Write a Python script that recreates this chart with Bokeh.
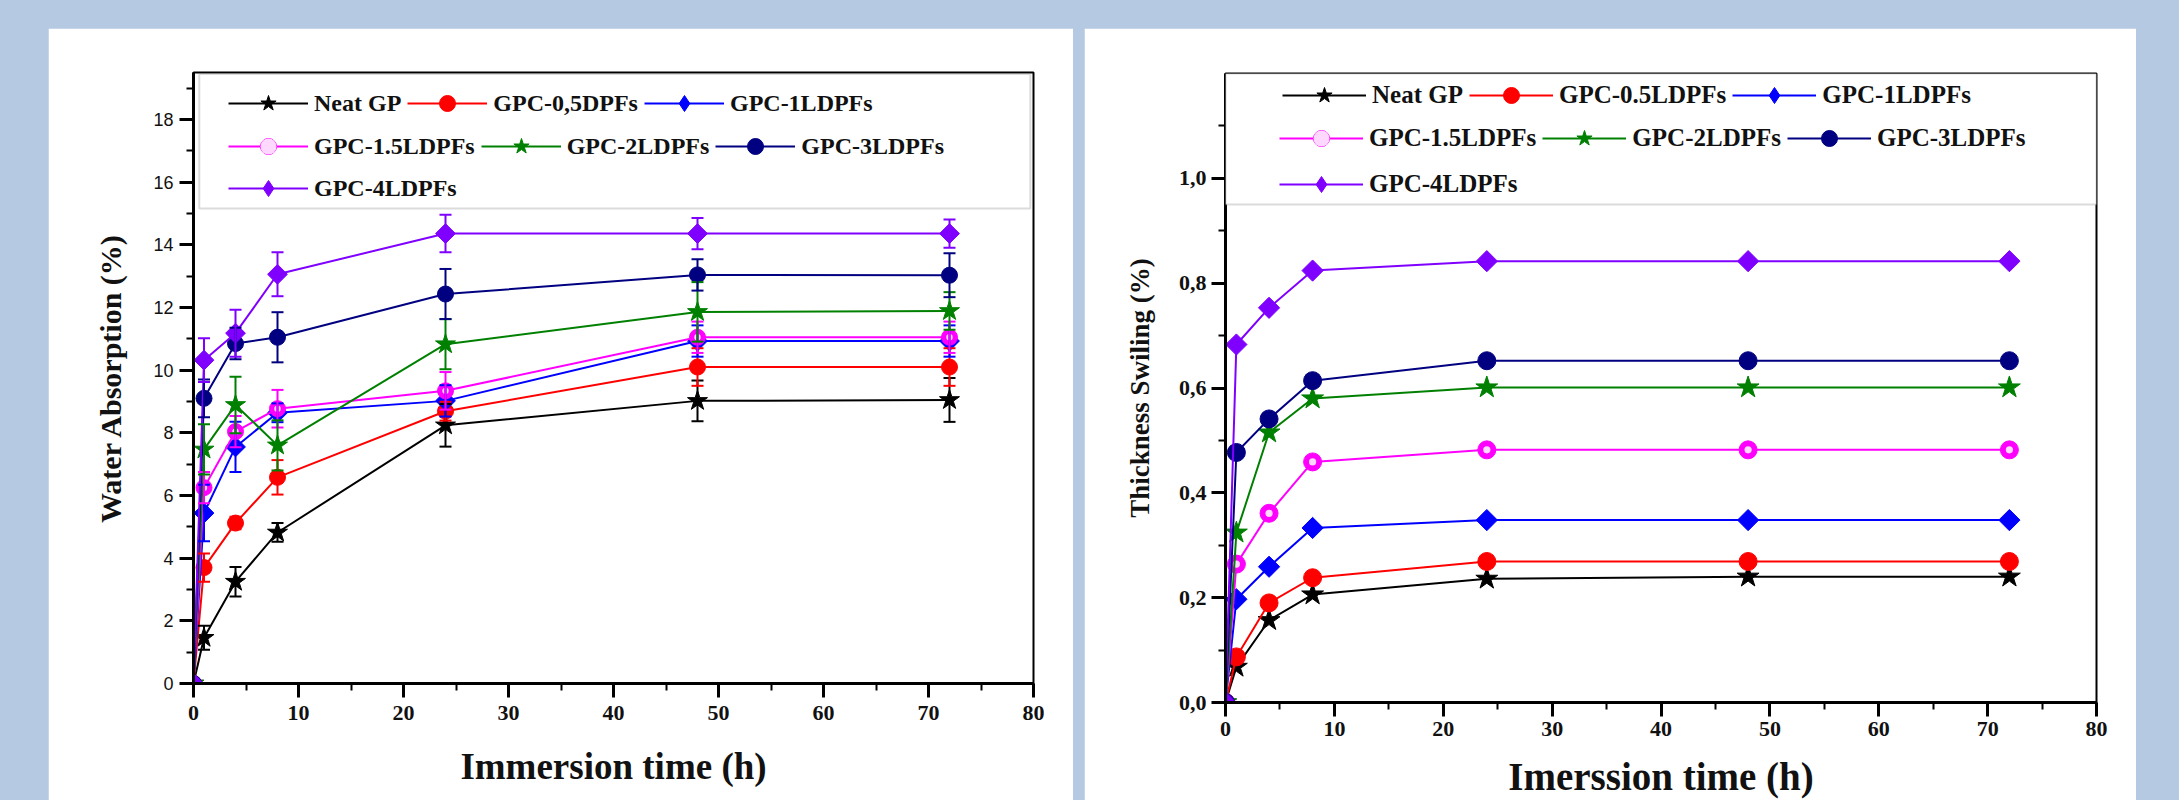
import math
from bokeh.plotting import figure
from bokeh.models import (Range1d, SingleIntervalTicker, Whisker, TeeHead, ColumnDataSource,
                          Legend, LegendItem, BoxAnnotation, CustomJSTickFormatter, Spacer,
                          GlobalInlineStyleSheet)
from bokeh.layouts import row, column
from bokeh.embed import file_html
from bokeh.resources import INLINE

# ---------------- data ----------------
hours = [0, 1, 4, 8, 24, 48, 72]

wa_labels = ["Neat GP", "GPC-0,5DPFs", "GPC-1LDPFs", "GPC-1.5LDPFs",
             "GPC-2LDPFs", "GPC-3LDPFs", "GPC-4LDPFs"]
ts_labels = ["Neat GP", "GPC-0.5LDPFs", "GPC-1LDPFs", "GPC-1.5LDPFs",
             "GPC-2LDPFs", "GPC-3LDPFs", "GPC-4LDPFs"]

# Water absorption (%) and error bars
wa_neat = [0, 1.46, 3.25, 4.82, 8.24, 9.02, 9.05]
wa_neat_err = [0, 0.38, 0.47, 0.30, 0.68, 0.65, 0.70]
wa_05 = [0, 3.70, 5.12, 6.58, 8.69, 10.10, 10.10]
wa_05_err = [0, 0.45, 0.20, 0.55, 0.30, 0.60, 0.60]
wa_1 = [0, 5.44, 7.55, 8.64, 9.02, 10.93, 10.93]
wa_1_err = [0, 0.90, 0.80, 0.30, 0.50, 0.50, 0.50]
wa_15 = [0, 6.25, 8.04, 8.77, 9.34, 11.05, 11.05]
wa_15_err = [0, 0.50, 0.50, 0.60, 0.60, 0.50, 0.50]
wa_2 = [0, 7.47, 8.89, 7.60, 10.83, 11.86, 11.89]
wa_2_err = [0, 0.80, 0.90, 0.80, 0.80, 0.95, 0.60]
wa_3 = [0, 9.10, 10.85, 11.05, 12.43, 13.04, 13.03]
wa_3_err = [0, 0.60, 0.50, 0.80, 0.80, 0.50, 0.70]
wa_4 = [0, 10.32, 11.18, 13.06, 14.36, 14.36, 14.36]
wa_4_err = [0, 0.70, 0.75, 0.70, 0.60, 0.50, 0.45]

# Thickness swelling (%)
ts_neat = [0, 0.068, 0.157, 0.206, 0.236, 0.240, 0.240]
ts_05 = [0, 0.087, 0.190, 0.238, 0.269, 0.269, 0.269]
ts_1 = [0, 0.197, 0.259, 0.333, 0.348, 0.348, 0.348]
ts_15 = [0, 0.264, 0.361, 0.459, 0.482, 0.482, 0.482]
ts_2 = [0, 0.324, 0.515, 0.580, 0.601, 0.601, 0.601]
ts_3 = [0, 0.477, 0.541, 0.614, 0.652, 0.652, 0.652]
ts_4 = [0, 0.683, 0.753, 0.824, 0.842, 0.842, 0.842]

colors = ["#000000", "#ff0000", "#0000ff", "#ff00ff", "#008000", "#000080", "#8000ff"]
markers = ["star", "circle", "diamond", "circle", "star", "circle", "diamond"]

BG = "#b5c9e3"
SERIF = "Liberation Serif"
SANS = "Liberation Sans"


def style_axes(p):
    p.grid.visible = False
    for ax in list(p.xaxis) + list(p.yaxis):
        ax.axis_line_width = 3
        ax.axis_line_color = "black"
        ax.major_tick_line_width = 3
        ax.minor_tick_line_width = 2
        ax.major_tick_line_color = "black"
        ax.minor_tick_line_color = "black"
        ax.major_tick_out = 14
        ax.major_tick_in = 0
        ax.minor_tick_out = 7
        ax.minor_tick_in = 0
        ax.axis_label_text_font = SERIF
        ax.axis_label_text_font_style = "bold"
        ax.axis_label_text_color = "#111111"
        ax.major_label_text_color = "#111111"


def add_series(p, ys, errs, sizes):
    rends = []
    for i, y in enumerate(ys):
        c = colors[i]
        src = ColumnDataSource(dict(x=hours, y=y))
        ln = p.line("x", "y", source=src, line_color=c, line_width=2)
        m = markers[i]
        sz = sizes[m]
        if m == "diamond":
            p.scatter("x", "y", source=src, marker="square", angle=math.pi / 4,
                      size=sz, fill_color=c, line_color=c)
            # legend swatch: zero-size diamonds (the legend sizes its own swatch)
            sc = p.scatter("x", "y", source=src, marker="diamond", size=0,
                           fill_color=c, line_color=c)
        else:
            sc = p.scatter("x", "y", source=src, marker=m, size=sz,
                           fill_color=c, line_color=c)
        group = [ln, sc]
        if i == 3:
            dot = p.scatter("x", "y", source=src, marker="circle", size=sz * 0.4,
                            fill_color="#ffd8ff", line_color=None)
            group.append(dot)
        if errs is not None:
            e = errs[i]
            xs = [hours[k] for k in range(len(hours)) if e[k] > 0]
            up = [y[k] + e[k] for k in range(len(hours)) if e[k] > 0]
            lo = [y[k] - e[k] for k in range(len(hours)) if e[k] > 0]
            wsrc = ColumnDataSource(dict(base=xs, upper=up, lower=lo))
            w = Whisker(source=wsrc, base="base", upper="upper", lower="lower",
                        line_color=c, line_width=2, level="glyph",
                        upper_head=TeeHead(size=12, line_color=c, line_width=2),
                        lower_head=TeeHead(size=12, line_color=c, line_width=2))
            p.add_layout(w)
        rends.append(group)
    return rends


def add_legends(p, labels, rends, locs, glyph_w, font_px):
    groups = [[0, 1, 2], [3, 4, 5], [6]]
    for g, loc in zip(groups, locs):
        items = [LegendItem(label=labels[i], renderers=rends[i]) for i in g]
        leg = Legend(items=items, orientation="horizontal", location=loc,
                     glyph_width=glyph_w, glyph_height=40, label_height=40,
                     label_standoff=6, spacing=6, padding=0, margin=0,
                     border_line_alpha=0, background_fill_alpha=0,
                     label_text_font=SERIF, label_text_font_style="bold",
                     label_text_font_size=font_px, label_text_color="#111111")
        p.add_layout(leg)


# ---------------- left: water absorption ----------------
p1 = figure(width=1025, height=772, x_range=Range1d(0, 80), y_range=Range1d(0, 19.5),
            output_backend="svg", toolbar_location=None,
            min_border_left=145, min_border_right=40, min_border_top=44, min_border_bottom=117,
            background_fill_color="white", border_fill_color="white",
            outline_line_color="black", outline_line_width=2, outline_line_alpha=1)
p1.frame_align = False
style_axes(p1)
p1.xaxis.ticker = SingleIntervalTicker(interval=10, num_minor_ticks=2)
p1.yaxis.ticker = SingleIntervalTicker(interval=2, num_minor_ticks=2)
p1.xaxis.axis_label = "Immersion time (h)"
p1.xaxis.axis_label_text_font_size = "37px"
p1.xaxis.axis_label_standoff = 23
p1.xaxis.major_label_text_font = SERIF
p1.xaxis.major_label_text_font_style = "bold"
p1.xaxis.major_label_text_font_size = "22px"
p1.xaxis.major_label_standoff = 8
p1.yaxis.axis_label = "Water Absorption (%)"
p1.yaxis.axis_label_text_font_size = "30px"
p1.yaxis.axis_label_standoff = 23
p1.yaxis.major_label_text_font = SANS
p1.yaxis.major_label_text_font_style = "normal"
p1.yaxis.major_label_text_font_size = "18px"
p1.yaxis.major_label_standoff = 6

box1 = BoxAnnotation(left=0.55, right=79.7, top=19.45, bottom=15.16,
                     fill_color="white", fill_alpha=1, line_color="#888888", line_width=2)
p1.add_layout(box1)

r1 = add_series(p1, [wa_neat, wa_05, wa_1, wa_15, wa_2, wa_3, wa_4],
                [wa_neat_err, wa_05_err, wa_1_err, wa_15_err, wa_2_err, wa_3_err, wa_4_err],
                {"star": 21, "circle": 16, "diamond": 14})
add_legends(p1, wa_labels, r1, [(35, 560), (35, 517), (35, 475)], 80, "24px")

# ---------------- right: thickness swelling ----------------
p2 = figure(width=1052, height=772, x_range=Range1d(0, 80), y_range=Range1d(0, 1.2),
            output_backend="svg", toolbar_location=None,
            min_border_left=141, min_border_right=40, min_border_top=45, min_border_bottom=97,
            background_fill_color="white", border_fill_color="white",
            outline_line_color="black", outline_line_width=2, outline_line_alpha=1)
p2.frame_align = False
style_axes(p2)
p2.xaxis.ticker = SingleIntervalTicker(interval=10, num_minor_ticks=2)
p2.yaxis.ticker = SingleIntervalTicker(interval=0.2, num_minor_ticks=2)
p2.yaxis.formatter = CustomJSTickFormatter(code="return tick.toFixed(1).replace('.', ',');")
p2.xaxis.axis_label = "Imerssion time (h)"
p2.xaxis.axis_label_text_font_size = "39px"
p2.xaxis.axis_label_standoff = 16
p2.xaxis.major_label_text_font = SERIF
p2.xaxis.major_label_text_font_style = "bold"
p2.xaxis.major_label_text_font_size = "22px"
p2.xaxis.major_label_standoff = 5
p2.yaxis.axis_label = "Thickness Swiling (%)"
p2.yaxis.axis_label_text_font_size = "27px"
p2.yaxis.axis_label_standoff = 21
p2.yaxis.major_label_text_font = SERIF
p2.yaxis.major_label_text_font_style = "bold"
p2.yaxis.major_label_text_font_size = "22px"
p2.yaxis.major_label_standoff = 5

box2 = BoxAnnotation(left=0, right=80, top=1.2, bottom=0.95,
                     fill_color="white", fill_alpha=1, line_color="#888888", line_width=2)
p2.add_layout(box2)

r2 = add_series(p2, [ts_neat, ts_05, ts_1, ts_15, ts_2, ts_3, ts_4], None,
                {"star": 23, "circle": 18, "diamond": 15})
add_legends(p2, ts_labels, r2, [(57, 587), (54, 544), (54, 498)], 84, "25px")

layout = column(Spacer(height=28),
                row(Spacer(width=48), p1, Spacer(width=11), p2),
                stylesheets=[GlobalInlineStyleSheet(css="body { background-color: %s; }" % BG)])

open("out.html", "w").write(file_html(layout, INLINE))
